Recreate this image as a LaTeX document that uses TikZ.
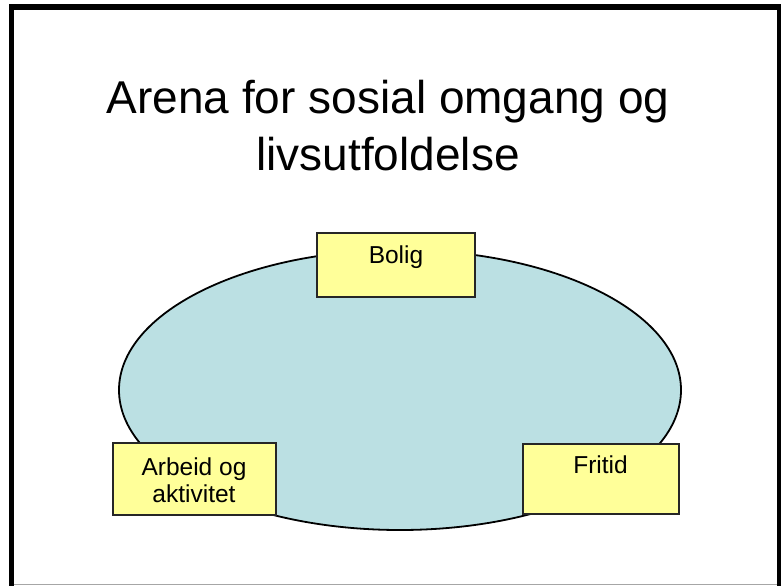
\documentclass[tikz,border=0pt]{standalone}
\usepackage{fontspec}
\setmainfont{Liberation Sans}
\usetikzlibrary{shapes.geometric}
\definecolor{arenafill}{RGB}{187,224,227}
\definecolor{notefill}{RGB}{255,255,153}
\tikzset{
  arena/.style={ellipse, draw=black, line width=1.8pt, fill=arenafill,
    minimum width=562pt, minimum height=280pt, inner sep=0pt},
  notebox/.style={rectangle, draw=black!85, line width=1.4pt, fill=notefill,
    inner sep=0pt},
  notetext/.style={anchor=base, inner sep=0pt, font=\fontsize{24.5}{27.5}\selectfont},
  titletext/.style={anchor=base, inner sep=0pt, font=\fontsize{46}{57}\selectfont}
}
\begin{document}
\begin{tikzpicture}[x=1pt,y=-1pt]
  \useasboundingbox (0,0) rectangle (781,586);
  \fill[white] (0,0) rectangle (781,586);
  % slide frame
  \fill[black] (9,4) rectangle (14,586);
  \fill[black] (9,4) rectangle (781,10);
  \fill[black] (777,4) rectangle (781,586);
  \draw[gray!70, line width=1pt] (14,584) -- (777,584);

  % title
  \node[titletext] (t1) at (388,113) {Arena for sosial omgang og};
  \node[titletext] (t2) at (388,170) {livsutfoldelse};

  % central arena
  \node[arena] (arena) at (400,390) {};

  % the three areas of life
  \node[notebox, minimum width=158pt, minimum height=64pt] (bolig) at (396,265) {};
  \node[notebox, minimum width=163pt, minimum height=72pt] (arbeid) at (194.5,479) {};
  \node[notebox, minimum width=156pt, minimum height=70pt] (fritid) at (601,479) {};

  \node[notetext] (boligtxt) at (396,263) {Bolig};
  \node[notetext] (arbeidtxt1) at (194,475) {Arbeid og};
  \node[notetext] (arbeidtxt2) at (194,502) {aktivitet};
  \node[notetext] (fritidtxt) at (600.5,473) {Fritid};
\end{tikzpicture}
\end{document}
